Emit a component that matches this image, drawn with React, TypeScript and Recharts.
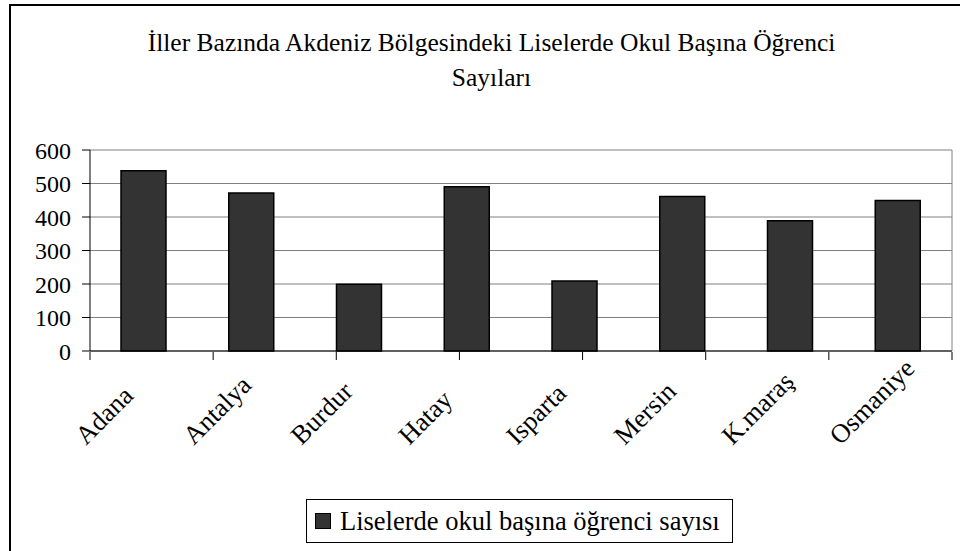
import { BarChart, Bar, XAxis, YAxis, CartesianGrid, Legend } from "recharts"

const cities = ["Adana", "Antalya", "Burdur", "Hatay", "Isparta", "Mersin", "K.maraş", "Osmaniye"]
const studentsPerSchool = [538, 472, 199, 490, 209, 461, 389, 449]
const yTicks = [0, 100, 200, 300, 400, 500, 600]
const edgeTicks = [0, 1, 2, 3, 4, 5, 6, 7, 8]
const titleLines = ["İller Bazında Akdeniz Bölgesindeki Liselerde Okul Başına Öğrenci", "Sayıları"]
const seriesName = "Liselerde okul başına öğrenci sayısı"

const data = cities.map((city, i) => ({ city, value: studentsPerSchool[i] }))

const FONT = "'Liberation Serif', 'Times New Roman', serif"

// labels start at a fixed point below each category and run up to the right
function CityTick(props: any) {
  const { x, y, payload } = props
  return (
    <g transform={`translate(${x - 58},${y + 95}) rotate(-45)`}>
      <text textAnchor="start" fontFamily={FONT} fontSize={26.5} fill="#000">
        {payload.value}
      </text>
    </g>
  )
}

// boundary ticks only need the tick line, no label
function NoLabel() {
  return <g />
}

function LegendBox(props: any) {
  const item = props.payload && props.payload[0]
  return (
    <div
      style={{
        boxSizing: "border-box",
        width: 427,
        height: 44,
        border: "1px solid #000",
        display: "flex",
        alignItems: "center",
        paddingLeft: 8,
        fontFamily: FONT,
        fontSize: 26.5,
        color: "#000",
        background: "#fff",
      }}
    >
      <span
        style={{
          display: "inline-block",
          boxSizing: "border-box",
          width: 16,
          height: 16,
          background: "#333333",
          border: "1px solid #000",
          marginRight: 9,
        }}
      />
      <span>{item ? item.value : seriesName}</span>
    </div>
  )
}

export default function App() {
  return (
    <div
      style={{
        position: "fixed",
        left: 0,
        top: 0,
        width: 960,
        height: 551,
        overflow: "hidden",
        background: "#fff",
      }}
    >
      {/* chart area frame (right and bottom edges fall outside the picture) */}
      <div
        style={{
          position: "absolute",
          left: 9,
          top: 4,
          width: 975,
          height: 600,
          border: "2px solid #000",
          boxSizing: "border-box",
        }}
      />
      <div
        style={{
          position: "absolute",
          left: 91.5,
          top: 25,
          width: 800,
          textAlign: "center",
          fontFamily: FONT,
          fontSize: 25.5,
          lineHeight: "35px",
          color: "#000",
        }}
      >
        {titleLines.map((t) => (
          <div key={t}>{t}</div>
        ))}
      </div>
      <div style={{ position: "absolute", left: 0, top: 0 }}>
        <BarChart width={960} height={551} data={data} margin={{ top: 150, right: 7, bottom: 0, left: 0 }}>
          <CartesianGrid xAxisId="cat" yAxisId="l" vertical={false} stroke="#808080" />
          <XAxis
            xAxisId="cat"
            dataKey="city"
            height={1}
            interval={0}
            tickLine={false}
            axisLine={{ stroke: "#000" }}
            tickSize={0}
            tickMargin={0}
            tick={<CityTick />}
          />
          <XAxis
            xAxisId="edge"
            type="number"
            domain={[0, 8]}
            ticks={edgeTicks}
            interval={0}
            tick={NoLabel}
            height={199}
            tickSize={8}
            axisLine={false}
            tickLine={{ stroke: "#000" }}
          />
          <YAxis
            yAxisId="l"
            width={90}
            domain={[0, 600]}
            ticks={yTicks}
            tickSize={8}
            tickMargin={11}
            axisLine={{ stroke: "#000" }}
            tickLine={{ stroke: "#000" }}
            tick={{ fontSize: 24, fill: "#000", fontFamily: FONT }}
          />
          <YAxis
            yAxisId="r"
            orientation="right"
            width={1}
            domain={[0, 600]}
            tick={false}
            tickLine={false}
            axisLine={{ stroke: "#808080" }}
          />
          <Bar
            xAxisId="cat"
            yAxisId="l"
            dataKey="value"
            name={seriesName}
            fill="#333333"
            stroke="#000"
            strokeWidth={1.5}
            barSize={45}
            isAnimationActive={false}
          />
          <Legend
            layout="horizontal"
            verticalAlign="middle"
            align="center"
            content={<LegendBox />}
            wrapperStyle={{ left: 306, top: 499, width: 427, height: 44 }}
          />
        </BarChart>
      </div>
    </div>
  )
}
